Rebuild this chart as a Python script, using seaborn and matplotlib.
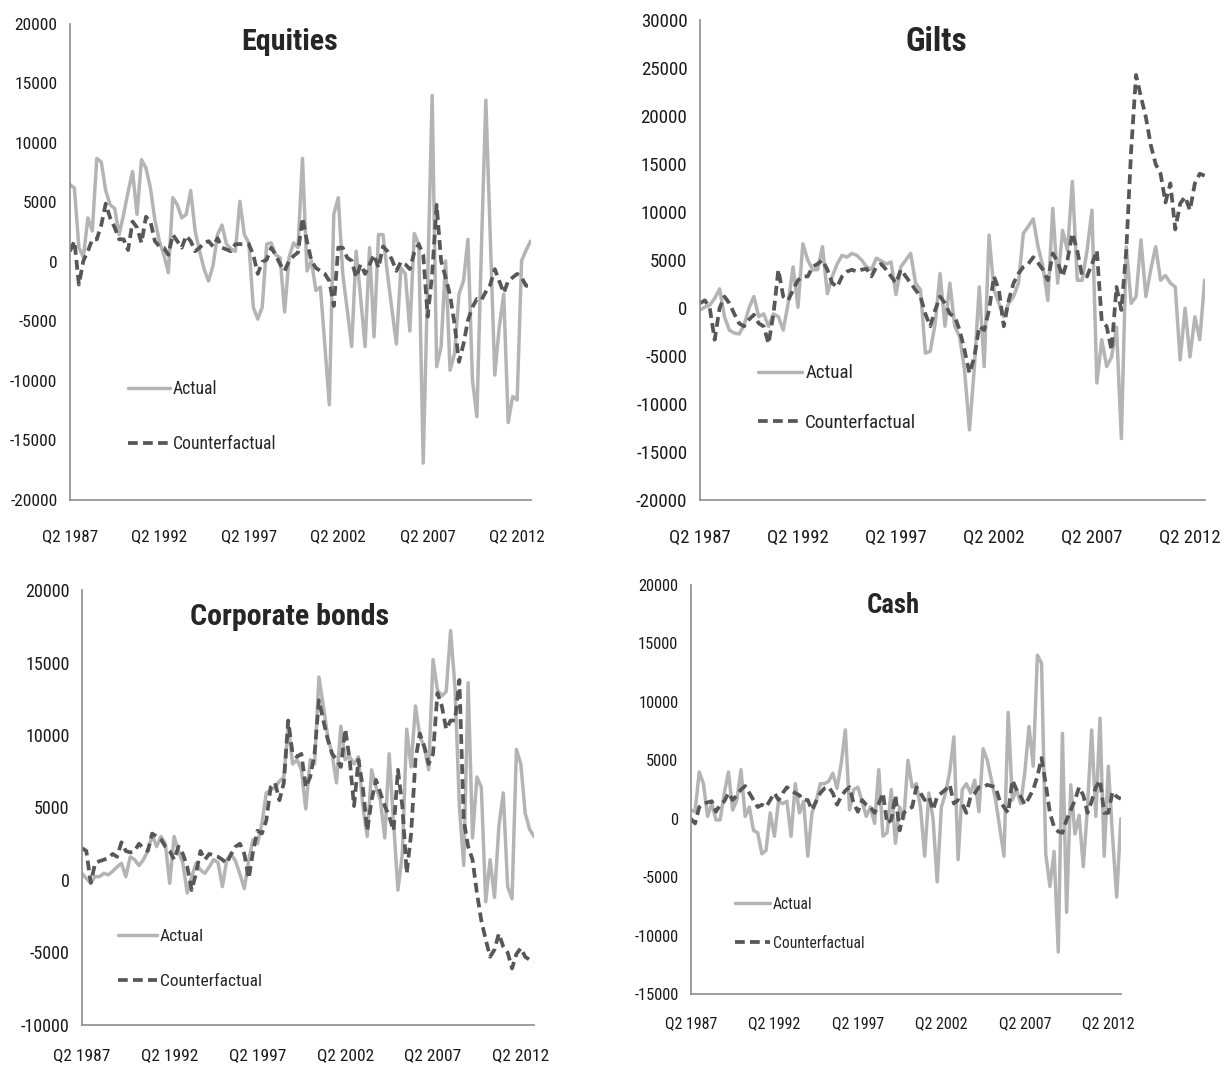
import numpy as np
import pandas as pd
import matplotlib.pyplot as plt
import seaborn as sns
from matplotlib import font_manager as fm

# quarterly data, Q2 1987 .. Q1 2013 (104 quarters)
equities_actual = [6500, 6200, 1200, 400, 3700, 2600, 8700, 8400, 6000, 4800,
                   4500, 2300, 4000, 5900, 7600, 4000, 8600, 7900, 6200, 3500,
                   1750, 600, -900, 5400, 4800, 3700, 4000, 6000, 2600, 900,
                   -600, -1600, -300, 2300, 3100, 1500, 1100, 900, 5100, 2300,
                   1600, -3800, -4800, -3800, 1500, 1600, 600, 350, -4200, 400,
                   1600, 1200, 8700, -750, 100, -2400, -2100, -7000, -12000, 4000,
                   5400, -1000, -4000, -7100, 900, -3000, -7100, 1200, -6300, 2300,
                   2300, -1000, -4000, -6900, -500, -1000, -5800, 2400, 1500, -16900,
                   -1500, 14000, -8800, -7100, 100, -9100, -7700, -2700, -1600, 1900,
                   -9900, -13000, 1000, 13600, 2000, -9500, -5500, -2700, -13500, -11300,
                   -11600, 100, 1000, 1750]
equities_cf = [900, 1750, -1900, 100, 900, 1900, 1900, 3100, 4900, 3700,
               2900, 1900, 1900, 1000, 3400, 2900, 1600, 3800, 3400, 1750,
               1300, 1200, 600, 2300, 1750, 1200, 2200, 1750, 900, 1200,
               1600, 1750, 1300, 2000, 1200, 1050, 900, 1500, 1500, 1500,
               1500, 600, -1000, 0, 200, 1200, 600, -200, -750, 100,
               500, 800, 3700, 1750, 100, -500, -750, -1000, -1600, -3700,
               1200, 1200, 350, 100, -1300, -200, -1000, -200, 600, -500,
               1300, 900, 200, -750, 0, -200, -600, 800, 1500, 600,
               -4600, -1000, 4800, 100, -1300, -2800, -5200, -8400, -6900, -4900,
               -3800, -3100, -3200, -2500, -1900, -600, -1600, -2600, -1600, -1300,
               -1000, -1300, -2000, -2000]

gilts_actual = [-200, 100, 300, 1000, 2000, -900, -2300, -2600, -2700, -1800,
                0, 1200, -900, -600, -1900, -600, -900, -2300, 500, 4300,
                100, 6700, 5000, 4000, 4000, 6400, 1500, 3300, 4600, 5500,
                5300, 5700, 5500, 5000, 4300, 4000, 5200, 4900, 4600, 4800,
                1400, 4300, 5000, 5700, 2600, 1900, -4700, -4500, -1600, 3600,
                -1900, 2600, -1900, -3000, -6500, -12700, -6200, 2200, -6100, 7600,
                1900, 500, -900, 500, 1200, 2600, 7800, 8500, 9300, 6400,
                4300, 800, 10400, 2600, 8100, 6000, 13200, 2900, 2900, 6000,
                10200, -7800, -3300, -6100, -5100, -2000, -13600, 6400, 500, 1200,
                7100, 1200, 4000, 6400, 2900, 3400, 2600, 2200, -5400, 0,
                -5100, -900, -3300, 2900]
gilts_cf = [500, 800, 0, -3300, 0, 1200, 500, -600, -1600, -1900,
            -1200, -700, -1600, -1900, -3700, -600, 4000, 1200, 800, 1900,
            2900, 3300, 3300, 4300, 4600, 5000, 4000, 2600, 2200, 3300,
            3800, 4000, 3800, 4000, 4100, 3300, 4300, 4600, 4000, 3300,
            2600, 4000, 3300, 2600, 1900, 1200, -600, -1900, -200, 1200,
            500, -600, -900, -2300, -4400, -6800, -5100, -1900, -2300, -200,
            3300, 1900, -1900, 800, 2600, 3600, 4300, 4600, 5300, 4700,
            4000, 2900, 5700, 4800, 3300, 5000, 7800, 6000, 3300, 3300,
            4600, 6000, -1400, -1900, -4400, 2200, -200, 6000, 16500, 24300,
            22000, 19900, 17000, 15000, 14000, 11000, 13000, 8200, 10900, 11600,
            10200, 13000, 14000, 13800]

corporate_actual = [460, 100, -200, 230, 230, 460, 350, 600, 900, 1150,
                    230, 1600, 1400, 1000, 1400, 2000, 3100, 2300, 3000, 2500,
                    -230, 3000, 2000, 1150, -900, 230, 1150, 700, 460, 900,
                    1400, 1200, -460, 1400, 1800, 1300, 400, -600, 1400, 2800,
                    2500, 3900, 6000, 6200, 6400, 6800, 7100, 10600, 8000, 8300,
                    7600, 4900, 8300, 8000, 14000, 12000, 9900, 8700, 6700, 10600,
                    8300, 8500, 8000, 8500, 5100, 3000, 7600, 6400, 5500, 2900,
                    8700, 4000, -700, 1800, 10400, 7800, 12000, 9900, 9200, 7600,
                    15200, 13100, 12700, 13000, 17200, 13300, 5100, 1000, 13600, 2900,
                    7100, 6400, -1500, 1400, -1200, 3700, 6000, -460, -1300, 9000,
                    8000, 4600, 3500, 3000]
corporate_cf = [2200, 2000, -200, 1150, 1300, 1400, 1500, 1800, 1600, 2600,
                2000, 1900, 2000, 2500, 2200, 2000, 3200, 3000, 2800, 2300,
                2000, 1400, 2300, 1800, 900, -700, 460, 2000, 1400, 1800,
                1700, 1600, 1400, 1150, 1800, 2300, 2500, 1800, 100, 2000,
                3400, 3200, 4100, 6400, 6700, 5500, 6700, 11000, 8700, 8500,
                8700, 6400, 7100, 8700, 12400, 11000, 9700, 8700, 8300, 7800,
                10400, 8300, 5100, 8300, 6400, 3400, 5500, 6900, 6000, 5100,
                4400, 3400, 7600, 5100, 460, 3200, 8300, 10100, 9200, 8000,
                8700, 12900, 12000, 10400, 11000, 11000, 13800, 4100, 2300, 1400,
                -900, -2800, -4100, -5300, -4800, -3700, -4600, -5000, -6100, -5100,
                -4700, -5300, -5500, -5600]

cash_actual = [750, 600, 4000, 3000, 200, 1300, -100, -100, 2200, 4000,
               750, 1600, 4200, 200, 1000, -1000, -1200, -3000, -2700, 500,
               -1500, 1500, 1300, 1500, -1500, 3000, 500, 1500, -3200, 500,
               1500, 3000, 3000, 3200, 3900, 2600, 4700, 7600, 750, 2500,
               2700, 1500, 200, 1000, -400, 4200, -1500, -1200, 2500, -2100,
               1000, 0, 5000, 2700, 3000, 1000, -3200, 2200, 0, -5400,
               1000, 2200, 4000, 7000, -3500, 2500, 3000, 2200, 3300, 600,
               6000, 5000, 3300, 1600, -800, -3200, 9100, 1600, 2500, 1300,
               4000, 7900, 4500, 14000, 13300, -3000, -5800, -2800, -11400, 7300,
               -8000, 2900, -1300, 300, -4100, 1000, 7600, 200, 8600, -3200,
               4500, -1500, -6700, 0]
cash_cf = [0, -400, 1000, 1300, 1400, 1500, 600, 1200, 1500, 2200,
           1600, 2000, 2500, 2800, 2200, 1600, 1000, 1200, 1000, 1600,
           2200, 1600, 2200, 2700, 2400, 2200, 2000, 1600, 1600, 750,
           1500, 2200, 2600, 2700, 2200, 1200, 1900, 2400, 2700, 1300,
           600, 1600, 1200, 1000, 500, 1300, 2200, -400, -100, 2000,
           -1000, 500, 800, 1000, 2700, 2200, 1600, 1900, 750, 1900,
           2200, 2500, 2900, 1300, 1600, 1300, 500, 1900, 2200, 2700,
           2700, 2900, 2800, 2700, 1500, 1000, 500, 3300, 2500, 1900,
           1200, 1800, 2500, 3600, 5200, 3000, 500, -700, -1100, -1200,
           -100, 750, 1600, 2700, 2000, 500, 1500, 2700, 3300, 500,
           500, 2300, 1900, 1700]

quarters = []
for k in range(104):
    quarters.append(f"Q{(1 + k) % 4 + 1} {1987 + (1 + k) // 4}")


# narrow font if one is there, otherwise Liberation Sans (Arial metrics)
def pick_font(cands):
    for c in cands:
        try:
            fm.findfont(fm.FontProperties(family=c), fallback_to_default=False)
            return c
        except Exception:
            pass
    return None


narrow = pick_font(['Liberation Sans Narrow', 'Arial Narrow', 'Roboto Condensed',
                    'Open Sans Condensed', 'Noto Sans Condensed'])
if narrow:
    FAMILY = narrow
    K = 1.2
else:
    FAMILY = 'Liberation Sans'
    K = 1.0

sns.set_style('white')
plt.rcParams['font.family'] = [FAMILY, 'DejaVu Sans']

ACTUAL_C = '#b4b4b4'
CF_C = '#575757'
AXIS_C = '#8c8c8c'

fig = plt.figure(figsize=(12.25, 10.66), dpi=100)


def draw_panel(rect, actual, cf, ylim, title, title_pos, title_fs, leg_pos,
               leg_fs, leg_space, tick_fs, xtick_fs, handle_len, xpad):
    ax = fig.add_axes(rect)
    df = pd.DataFrame({'q': np.arange(len(actual)), 'Actual': actual,
                       'Counterfactual': cf})
    sns.lineplot(data=df, x='q', y='Actual', ax=ax, color=ACTUAL_C,
                 linewidth=2.5, label='Actual')
    sns.lineplot(data=df, x='q', y='Counterfactual', ax=ax, color=CF_C,
                 linewidth=2.7, label='Counterfactual')
    ax.lines[-1].set_dashes([2.6, 1.4])

    ax.set_xlim(0, len(actual) - 1)
    ax.set_ylim(*ylim)
    yt = np.arange(ylim[0], ylim[1] + 1, 5000)
    ax.set_yticks(yt)
    ax.set_yticklabels([str(v) for v in yt], fontsize=tick_fs * K)
    xt = np.arange(0, 101, 4)
    ax.set_xticks(xt)
    ax.set_xticklabels([quarters[i] if i % 20 == 0 else '' for i in xt],
                       fontsize=xtick_fs * K)
    ax.set_xlabel('')
    ax.set_ylabel('')
    for s in ['top', 'right']:
        ax.spines[s].set_visible(False)
    for s in ['left', 'bottom']:
        ax.spines[s].set_color(AXIS_C)
        ax.spines[s].set_linewidth(1.2)
    ax.tick_params(axis='y', direction='out', length=4, width=1, color=AXIS_C,
                   pad=5, labelcolor='#1a1a1a')
    ax.tick_params(axis='x', direction='out', length=5, width=1, color=AXIS_C,
                   pad=xpad, labelcolor='#1a1a1a')

    ax.text(title_pos[0], title_pos[1], title, transform=ax.transAxes,
            ha='center', va='center', fontsize=title_fs * K, fontweight='bold')
    ax.legend(loc='upper left', bbox_to_anchor=leg_pos, frameon=False,
              fontsize=leg_fs * K, handlelength=handle_len / K,
              handletextpad=0.15, labelspacing=leg_space / K, borderpad=0,
              borderaxespad=0)
    return ax


draw_panel([0.0571, 0.531, 0.376, 0.4465], equities_actual, equities_cf,
           (-20000, 20000), 'Equities', (0.477, 0.962), 18, (0.125, 0.252),
           10.6, 2.5, 10.5, 10.2, 2.9, 16)
draw_panel([0.5714, 0.531, 0.412, 0.450], gilts_actual, gilts_cf,
           (-20000, 30000), 'Gilts', (0.469, 0.954), 20, (0.115, 0.283),
           11.4, 2.0, 11.3, 11.2, 2.8, 16)
draw_panel([0.0669, 0.0385, 0.369, 0.408], corporate_actual, corporate_cf,
           (-10000, 20000), 'Corporate bonds', (0.46, 0.938), 18, (0.08, 0.22),
           10.4, 2.05, 10.8, 10.4, 2.7, 12)
draw_panel([0.564, 0.0675, 0.351, 0.3837], cash_actual, cash_cf,
           (-15000, 20000), 'Cash', (0.47, 0.949), 16, (0.103, 0.238),
           9.4, 1.85, 9.8, 9.6, 2.7, 11)

fig.savefig('out.png', dpi=100)
